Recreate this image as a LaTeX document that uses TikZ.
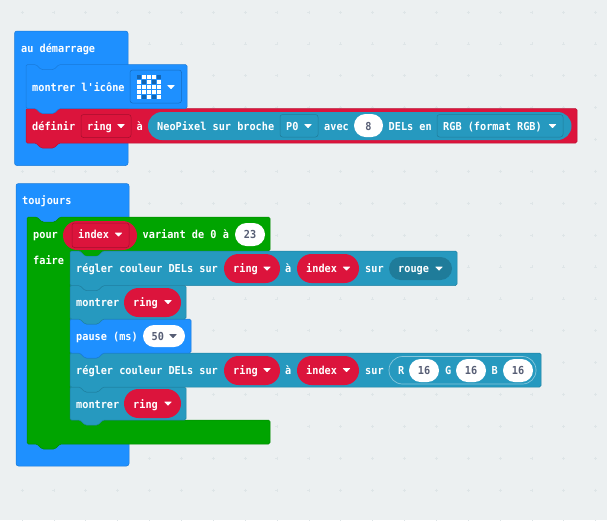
\documentclass[tikz,border=0pt]{standalone}
\usepackage{fontspec}
\newfontfamily\blockfont[FakeStretch=0.93]{DejaVu Sans Mono}
\definecolor{pagebg}{HTML}{ECF0F1}
\definecolor{gridmark}{HTML}{DEE5E7}
\definecolor{hatblue}{HTML}{1E90FF}
\definecolor{ringred}{HTML}{DC143C}
\definecolor{ledteal}{HTML}{2699BF}
\definecolor{darkteal}{HTML}{1F7C9A}
\definecolor{loopgreen}{HTML}{00A400}
\definecolor{numgrey}{HTML}{575E75}
\tikzset{
  lbl/.style={anchor=west,inner sep=0pt,text=white,text height=10pt,text depth=2pt,font=\blockfont\bfseries\fontsize{11}{12}\selectfont},
  num/.style={lbl,anchor=center,text=numgrey},
  fieldbox/.style={rounded corners=2.5pt,line width=0.5pt},
  hat/.style={rounded corners=2.5pt,draw=hatblue!85!black,fill=hatblue,line width=0.5pt}
}
% left, top, right, bottom, colour
\newcommand{\stackblock}[5]{
  \draw [rounded corners=1.5pt,line width=0.5pt,draw=#5!85!black,fill=#5]
    (#1,#2) -- (#1+10,#2) -- (#1+15,#2+5) -- (#1+28,#2+5) -- (#1+33,#2) -- (#3,#2)
    -- (#3,#4) -- (#1+33,#4) -- (#1+28,#4+5) -- (#1+15,#4+5) -- (#1+10,#4) -- (#1,#4) -- cycle;
}
% left, top, right, bottom, fill
\newcommand{\pill}[5]{
  \pgfmathsetmacro{\pillr}{(#4-#2)/2-0.01}
  \fill [#5,rounded corners=\pillr pt] (#1,#2) rectangle (#3,#4);
}
\newcommand{\dropmark}[3]{
  \fill [#3,rounded corners=0.7pt] (#1-4,#2-2) -- (#1+4,#2-2) -- (#1,#2+2.3) -- cycle;
}
\begin{document}
\begin{tikzpicture}[x=1pt,y=-1pt]

\fill [pagebg] (0,0) rectangle (607,520);
\useasboundingbox (0,0) rectangle (607,520);

\foreach \gx in {0,...,18}
  \foreach \gy in {0,...,16}
    \draw [gridmark,line width=0.6pt]
      (22+31.87*\gx-1.5,12+31.87*\gy) -- +(3,0)
      (22+31.87*\gx,12+31.87*\gy-1.5) -- +(0,3);

% au demarrage
\draw [hat] (14.5,31) rectangle (128,165.5);
\node [lbl] (startlbl) at (21,48) {au démarrage};

\stackblock{26}{108.5}{577}{143}{ringred}
\stackblock{26}{64.5}{187}{108.5}{hatblue}

\node [lbl] (iconlbl) at (32,87) {montrer l'icône};
\draw [fieldbox,draw=hatblue!75!black] (130,70) rectangle (181.5,103);
\foreach \lx/\ly/\lc in {
  0/0/hatblue!70!black,1/0/white,2/0/white,3/0/white,4/0/hatblue!70!black,
  0/1/white,1/1/hatblue!70!black,2/1/white,3/1/hatblue!70!black,4/1/white,
  0/2/white,1/2/white,2/2/white,3/2/white,4/2/white,
  0/3/white,1/3/white,2/3/white,3/3/white,4/3/white,
  0/4/white,1/4/hatblue!70!black,2/4/white,3/4/hatblue!70!black,4/4/white}
  \fill [\lc] (137+5*\lx,75+5*\ly) rectangle +(4,4);
\dropmark{171}{87}{white}

\node [lbl] (setlbl) at (32,126) {définir};
\draw [fieldbox,draw=ringred!75!black] (81,114.5) rectangle (131,137.5);
\node [lbl] (setring) at (87,126) {ring};
\dropmark{121}{126}{white}
\node [lbl] (seta) at (136.5,126) {à};

\pill{148}{112}{571.5}{140}{ledteal}
\node [lbl] (neolbl) at (157,126) {NeoPixel sur broche};
\draw [fieldbox,draw=darkteal] (280,114.5) rectangle (318,137);
\node [lbl] (pinlbl) at (286,126) {P0};
\dropmark{308}{126}{white}
\node [lbl] (avec) at (324,126) {avec};
\pill{354}{114}{383}{137}{white}
\node [num] (ledcount) at (368.5,126) {8};
\node [lbl] (delsen) at (388.5,126) {DELs en};
\draw [fieldbox,draw=darkteal] (437,114.5) rectangle (563,137);
\node [lbl] (rgblbl) at (443,126) {RGB (format RGB)};
\dropmark{552.5}{126}{white}

% toujours
\draw [hat] (16,183.5) rectangle (129,466);
\node [lbl] (foreverlbl) at (22,200) {toujours};

\draw [rounded corners=1.5pt,line width=0.5pt,draw=loopgreen!85!black,fill=loopgreen]
  (27,217) -- (37,217) -- (42,222) -- (55,222) -- (60,217) -- (270,217) -- (270,251)
  -- (103,251) -- (98,256) -- (85,256) -- (80,251) -- (70,251) -- (70,420) -- (270,420)
  -- (270,444) -- (60,444) -- (55,449) -- (42,449) -- (37,444) -- (27,444) -- cycle;
\node [lbl] (pourlbl) at (33,234) {pour};
\node [lbl] (fairelbl) at (33,260) {faire};
\pill{63}{221}{137}{250}{ringred}
\draw [fieldbox,draw=ringred!75!black] (72,223) rectangle (129,247.5);
\node [lbl] (indexlbl) at (78,234) {index};
\dropmark{118.5}{234.5}{white}
\node [lbl] (variant) at (142.5,234) {variant de 0 à};
\pill{235}{223}{265}{246}{white}
\node [num] (upto) at (250,234.5) {23};

% stacked blocks, last one first so that each tab lies on the block below
\stackblock{70}{387}{186}{420}{ledteal}
\stackblock{70}{353}{541}{387}{ledteal}
\stackblock{70}{319}{191}{353}{hatblue}
\stackblock{70}{285.5}{186}{319}{ledteal}
\stackblock{70}{251}{457}{285.5}{ledteal}
\fill [loopgreen] (80.5,250) -- (85,255.5) -- (98,255.5) -- (102.5,250) -- cycle;

\node [lbl] (setcolor) at (76,268.5) {régler couleur DELs sur};
\pill{224}{254}{280}{283}{ringred}
\node [lbl] (setcolorring) at (233,268.5) {ring};
\dropmark{267}{268.5}{white}
\node [lbl] (setcolora) at (285,268.5) {à};
\pill{297}{254}{359}{283}{ringred}
\node [lbl] (setcolorindex) at (306,268.5) {index};
\dropmark{346.5}{268.5}{white}
\node [lbl] (setcolorsur) at (365,268.5) {sur};
\pill{389}{257}{452}{280}{darkteal}
\node [lbl] (rouge) at (398,268.5) {rouge};
\dropmark{439}{268.5}{white}

\node [lbl] (showa) at (76,302) {montrer};
\pill{124}{288}{181}{317}{ringred}
\node [lbl] (showaring) at (133,302) {ring};
\dropmark{168}{302}{white}

\node [lbl] (pauselbl) at (76,336.5) {pause (ms)};
\pill{143}{325}{185}{347}{white}
\node [lbl,text=numgrey] (pausenum) at (151.5,336.5) {50};
\dropmark{173}{336}{numgrey}

\node [lbl] (setrgb) at (76,370) {régler couleur DELs sur};
\pill{224}{356}{280}{385}{ringred}
\node [lbl] (setrgbring) at (233,370) {ring};
\dropmark{267}{370}{white}
\node [lbl] (setrgba) at (285,370) {à};
\pill{297}{356}{359}{385}{ringred}
\node [lbl] (setrgbindex) at (306,370) {index};
\dropmark{346.5}{370}{white}
\node [lbl] (setrgbsur) at (365,370) {sur};
\draw [rounded corners=13.5pt,draw=white!45!ledteal,line width=0.7pt] (389,356.5) rectangle (536,384);
\node [lbl] (rlbl) at (398,370.5) {R};
\pill{409}{359}{439}{382}{white}
\node [num] (rval) at (424,370.5) {16};
\node [lbl] (glbl) at (445,370.5) {G};
\pill{456}{359}{486}{382}{white}
\node [num] (gval) at (471,370.5) {16};
\node [lbl] (blbl) at (491.5,370.5) {B};
\pill{503}{359}{533}{382}{white}
\node [num] (bval) at (518,370.5) {16};

\node [lbl] (showb) at (76,404) {montrer};
\pill{124}{389}{181}{418}{ringred}
\node [lbl] (showbring) at (133,404) {ring};
\dropmark{168}{403.5}{white}

\end{tikzpicture}
\end{document}
